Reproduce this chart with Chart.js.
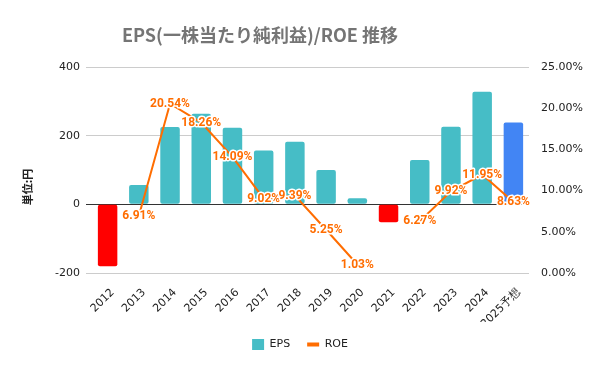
<!DOCTYPE html>
<html>
<head>
<meta charset="utf-8">
<script src="https://cdn.jsdelivr.net/npm/chart.js@4.4.1/dist/chart.umd.min.js"></script>
<style>
  html, body { margin: 0; padding: 0; background: #fff; }
</style>
</head>
<body>
<canvas id="chart" width="600" height="371"></canvas>
<script>
// データ
const years = ['2012', '2013', '2014', '2015', '2016', '2017', '2018', '2019', '2020', '2021', '2022', '2023', '2024', '2025予想'];
const eps = [-180, 56, 225, 264, 223, 157, 182, 100, 18, -52, 129, 226, 328, 238];
const roe = [null, 6.91, 20.54, 18.26, 14.09, 9.02, 9.39, 5.25, 1.03, null, 6.27, 9.92, 11.95, 8.63];
const epsTicks = [-200, 0, 200, 400];
const roeTicks = [0, 5, 10, 15, 20, 25];

const TITLE = 'EPS(一株当たり純利益)/ROE 推移';
const TEAL = '#46BDC6', RED = '#FF0000', BLUE = '#4285F4', ORANGE = '#FF6D01';
const FONT = 'DejaVu Sans';

const barColors = eps.map((v, i) => i === eps.length - 1 ? BLUE : (v < 0 ? RED : TEAL));

// タイトル、ROEの数値ラベル、縦軸タイトル
const labelPlugin = {
  id: 'roeLabels',
  afterDatasetsDraw(chart) {
    const ctx = chart.ctx;
    const meta = chart.getDatasetMeta(1);
    ctx.save();
    ctx.font = 'bold 12px Roboto';
    ctx.textAlign = 'center';
    ctx.textBaseline = 'middle';
    ctx.lineJoin = 'round';
    meta.data.forEach((pt, i) => {
      if (roe[i] == null) return;
      const txt = roe[i].toFixed(2) + '%';
      ctx.strokeStyle = '#fff';
      ctx.lineWidth = 3;
      ctx.strokeText(txt, pt.x, pt.y);
      ctx.fillStyle = ORANGE;
      ctx.fillText(txt, pt.x, pt.y);
    });
    ctx.restore();
  },
  afterDraw(chart) {
    const ctx = chart.ctx;
    ctx.save();
    ctx.font = 'bold 18px "Noto Sans CJK JP"';
    ctx.fillStyle = '#757575';
    ctx.textAlign = 'left';
    ctx.textBaseline = 'middle';
    ctx.fillText(TITLE, 122, 35);
    ctx.translate(28, 187);
    ctx.rotate(-Math.PI / 2);
    ctx.font = 'bold 11px "Noto Sans CJK JP"';
    ctx.fillStyle = '#222';
    ctx.textAlign = 'center';
    ctx.fillText('単位:円', 0, 0);
    ctx.restore();
  }
};

new Chart(document.getElementById('chart'), {
  data: {
    labels: years,
    datasets: [
      {
        type: 'bar',
        label: 'EPS',
        data: eps,
        backgroundColor: barColors,
        borderWidth: 0,
        borderRadius: 2,
        borderSkipped: false,
        categoryPercentage: 0.8,
        barPercentage: 0.78,
        yAxisID: 'y',
        order: 1,
        pointStyle: 'rect'
      },
      {
        type: 'line',
        label: 'ROE',
        data: roe,
        borderColor: ORANGE,
        backgroundColor: ORANGE,
        borderWidth: 2,
        pointRadius: 0,
        spanGaps: false,
        yAxisID: 'y1',
        order: 0,
        pointStyle: 'line'
      }
    ]
  },
  options: {
    responsive: false,
    animation: false,
    layout: { padding: { left: 0, right: 0, top: 67, bottom: 11 } },
    plugins: {
      title: { display: false },
      legend: {
        position: 'bottom',
        labels: {
          usePointStyle: true,
          boxHeight: 11,
          pointStyleWidth: 12,
          padding: 17,
          color: '#222',
          font: { family: FONT, size: 11 },
          sort: (a, b) => a.datasetIndex - b.datasetIndex,
          generateLabels(chart) {
            const items = Chart.defaults.plugins.legend.labels.generateLabels(chart);
            items.forEach(it => {
              if (it.datasetIndex === 0) { it.fillStyle = TEAL; it.strokeStyle = TEAL; it.lineWidth = 0; it.pointStyle = 'rect'; }
              else { it.strokeStyle = ORANGE; it.lineWidth = 4; it.pointStyle = 'line'; }
            });
            return items;
          }
        }
      },
      tooltip: { enabled: false }
    },
    scales: {
      x: {
        grid: { display: false },
        border: { display: false },
        ticks: {
          color: '#222',
          font: { family: FONT, size: 11 },
          maxRotation: 45,
          minRotation: 45,
          autoSkip: false,
          padding: 5,
          labelOffset: 5
        },
        afterFit(s) { s.height = 49; }
      },
      y: {
        position: 'left',
        min: -200,
        max: 400,
        afterBuildTicks(s) { s.ticks = epsTicks.map(v => ({ value: v })); },
        grid: {
          color: ctx => ctx.tick && ctx.tick.value === 0 ? '#333' : '#ccc',
          tickLength: 6,
          lineWidth: 1
        },
        border: { display: false },
        ticks: { color: '#222', font: { family: FONT, size: 11 }, padding: 6 },
        afterFit(s) { s.width = 92; }
      },
      y1: {
        position: 'right',
        min: 0,
        max: 25,
        afterBuildTicks(s) { s.ticks = roeTicks.map(v => ({ value: v })); },
        grid: { drawOnChartArea: false, drawTicks: false },
        border: { display: false },
        ticks: {
          color: '#222',
          font: { family: FONT, size: 11 },
          padding: 12,
          callback: v => v.toFixed(2) + '%'
        },
        afterFit(s) { s.width = 71; }
      }
    }
  },
  plugins: [labelPlugin]
});
</script>
</body>
</html>
